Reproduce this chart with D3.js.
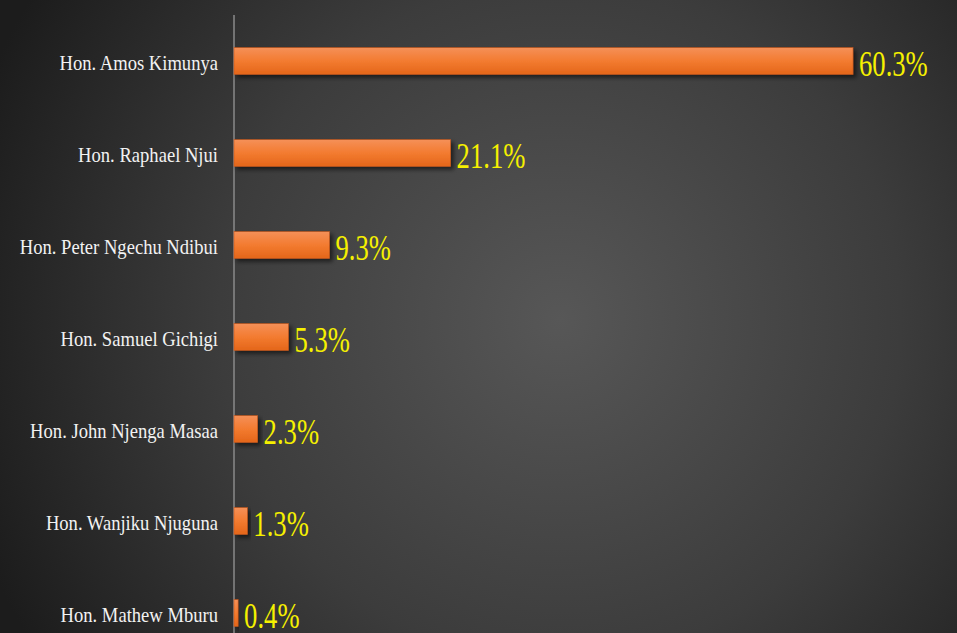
<!DOCTYPE html>
<html><head><meta charset="utf-8">
<script src="https://cdn.jsdelivr.net/npm/d3@7"></script>
<style>
html,body{margin:0;padding:0;background:#222;overflow:hidden}
svg{display:block}
</style></head>
<body>
<script>
const categories = ["Hon. Amos Kimunya","Hon. Raphael Njui","Hon. Peter Ngechu Ndibui","Hon. Samuel Gichigi","Hon. John Njenga Masaa","Hon. Wanjiku Njuguna","Hon. Mathew Mburu"];
const values = [60.3,21.1,9.3,5.3,2.3,1.3,0.4];
const valueLabels = ["60.3%","21.1%","9.3%","5.3%","2.3%","1.3%","0.4%"];

const W=957,H=633;
const svg=d3.select("body").append("svg").attr("width",W).attr("height",H);
const defs=svg.append("defs");
const bg=defs.append("radialGradient").attr("id","bg").attr("gradientUnits","userSpaceOnUse")
  .attr("cx",560).attr("cy",320).attr("r",620);
bg.append("stop").attr("offset","0").attr("stop-color","#575757");
bg.append("stop").attr("offset","0.55").attr("stop-color","#3c3c3c");
bg.append("stop").attr("offset","1").attr("stop-color","#1c1c1c");
const bar=defs.append("linearGradient").attr("id","bar").attr("x1",0).attr("y1",0).attr("x2",0).attr("y2",1);
bar.append("stop").attr("offset","0").attr("stop-color","#f59058");
bar.append("stop").attr("offset","0.5").attr("stop-color","#f37b30");
bar.append("stop").attr("offset","1").attr("stop-color","#e4661a");
const sh=defs.append("filter").attr("id","sh").attr("x","-10%").attr("y","-30%").attr("width","130%").attr("height","180%");
sh.append("feDropShadow").attr("dx",3).attr("dy",3).attr("stdDeviation",2).attr("flood-color","#000").attr("flood-opacity",0.55);

svg.append("rect").attr("width",W).attr("height",H).attr("fill","url(#bg)");

const x0=234;
const x=d3.scaleLinear().domain([0,60.3]).range([x0,853]);
const y=d3.scaleBand().domain(categories).range([15,659]).paddingInner(0.71).paddingOuter(0.355);

svg.append("line").attr("x1",x0).attr("x2",x0).attr("y1",15).attr("y2",H).attr("stroke","#8a8a8a").attr("stroke-width",1.5);

const g=svg.selectAll("g.row").data(categories).enter().append("g").attr("class","row");
g.append("rect").attr("x",x0).attr("y",d=>y(d)).attr("height",y.bandwidth())
  .attr("width",(d,i)=>x(values[i])-x0).attr("fill","url(#bar)").attr("filter","url(#sh)")
  .attr("stroke","#c9571a").attr("stroke-width",0.6);

g.append("text").attr("transform",d=>`translate(218,${y(d)+y.bandwidth()/2+8.5}) scale(0.93,1)`)
  .attr("text-anchor","end").attr("fill","#f2f2f2")
  .attr("font-family","Liberation Serif").attr("font-size",20)
  .text(d=>d);

g.append("text").attr("transform",(d,i)=>`translate(${x(values[i])+6},${y(d)+y.bandwidth()/2+14.5}) scale(0.74,1)`)
  .attr("fill","#f5f000")
  .attr("font-family","Liberation Serif").attr("font-size",36)
  .text((d,i)=>valueLabels[i]);
</script>
</body></html>
